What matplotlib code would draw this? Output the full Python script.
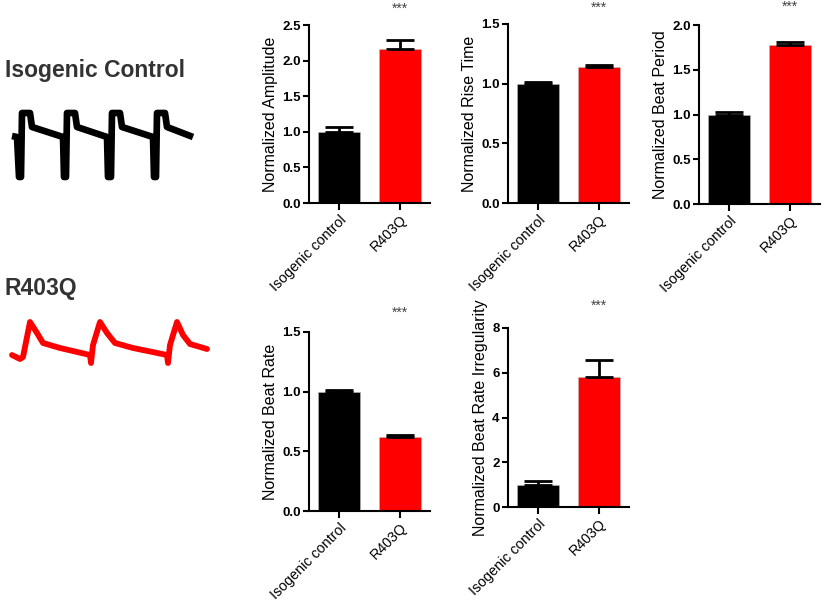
import matplotlib
matplotlib.use("Agg")
import matplotlib.pyplot as plt

plt.rcParams['font.family'] = ['Liberation Sans', 'DejaVu Sans']

# ---------------- data ----------------
groups = ["Isogenic control", "R403Q"]
bar_colors = ["#000000", "#ff0000"]

amplitude_mean = [1.00, 2.16]
amplitude_err = [0.07, 0.13]
rise_mean = [1.00, 1.14]
rise_err = [0.01, 0.015]
period_mean = [1.00, 1.78]
period_err = [0.03, 0.03]
rate_mean = [1.00, 0.62]
rate_err = [0.01, 0.015]
irreg_mean = [1.00, 5.80]
irreg_err = [0.15, 0.75]

significance = "***"

# illustrative traces (image pixel coordinates)
ctrl_trace_x = [12, 17, 19, 21, 22, 30, 32, 63, 64, 66, 67, 75, 77, 107, 108, 111,
                112, 120, 122, 153, 154, 156, 157, 165, 167, 193]
ctrl_trace_y = [136, 137, 177, 177, 113, 113, 127, 137, 177, 177, 113, 113, 127, 137, 177, 177,
                113, 113, 127, 137, 177, 177, 113, 113, 127, 137]
r403q_trace_x = [12, 20, 23, 26, 30, 37, 43, 60, 90, 91, 93, 100, 107, 115, 133, 167,
                 168, 170, 177, 183, 190, 207]
r403q_trace_y = [355, 359, 357, 342, 322, 333, 343, 348, 355, 363, 345, 322, 333, 343, 348, 355,
                 363, 345, 322, 335, 344, 349]

panels = [
    # (mean, err, ylabel, ymax, yticks, fmt, rect, star offset pt)
    (amplitude_mean, amplitude_err, "Normalized Amplitude", 2.5, [0, 0.5, 1.0, 1.5, 2.0, 2.5], "{:.1f}",
     [309, 25, 121, 178], 12),
    (rise_mean, rise_err, "Normalized Rise Time", 1.5, [0, 0.5, 1.0, 1.5], "{:.1f}",
     [508, 24, 121, 179], 12),
    (period_mean, period_err, "Normalized Beat Period", 2.0, [0, 0.5, 1.0, 1.5, 2.0], "{:.1f}",
     [699, 25, 121, 179], 13),
    (rate_mean, rate_err, "Normalized Beat Rate", 1.5, [0, 0.5, 1.0, 1.5], "{:.1f}",
     [309, 332, 121, 179], 14),
    (irreg_mean, irreg_err, "Normalized Beat Rate Irregularity", 8, [0, 2, 4, 6, 8], "{:.0f}",
     [508, 328, 121, 179], 16),
]

W, H = 825, 606
fig = plt.figure(figsize=(W / 100, H / 100), dpi=100)

# left illustration
bg = fig.add_axes([0, 0, 1, 1])
bg.set_xlim(0, W)
bg.set_ylim(H, 0)
bg.axis("off")
bg.plot(ctrl_trace_x, ctrl_trace_y, color="black", lw=4.8, solid_joinstyle="round", solid_capstyle="butt")
bg.plot(r403q_trace_x, r403q_trace_y, color="#ff0000", lw=4.2, solid_joinstyle="round", solid_capstyle="round")
bg.text(5, 77, "Isogenic Control", fontsize=16.5, fontweight="heavy", color="#333333", va="baseline", ha="left")
bg.text(5, 295, "R403Q", fontsize=16.5, fontweight="heavy", color="#333333", va="baseline", ha="left")

xpos = [0, 1]
for mean, err, ylabel, ymax, yticks, fmt, (l, t, w, h), soff in panels:
    ax = fig.add_axes([l / W, 1 - (t + h) / H, w / W, h / H])
    ax.bar(xpos, mean, width=0.7, color=bar_colors, edgecolor="#bbbbbb", linewidth=0.4, zorder=2)
    ax.errorbar(xpos, mean, yerr=[[0, 0], err], fmt="none", ecolor="black", elinewidth=2.0,
                capsize=10, capthick=2.0, zorder=3)
    ax.set_xlim(-0.5, 1.5)
    ax.set_ylim(0, ymax)
    ax.set_yticks(yticks)
    ax.set_yticklabels([fmt.format(v) for v in yticks], fontsize=9.5, fontweight="bold")
    ax.set_xticks(xpos)
    ax.set_xticklabels(groups, rotation=45, ha="right", rotation_mode="anchor", fontsize=10.3)
    ax.set_ylabel(ylabel, fontsize=11.5, labelpad=3)
    for s in ["top", "right"]:
        ax.spines[s].set_visible(False)
    for s in ["left", "bottom"]:
        ax.spines[s].set_linewidth(1.5)
    ax.tick_params(axis="both", direction="out", width=1.5, length=4, pad=2)
    ax.tick_params(axis="x", length=5, pad=2)
    ax.annotate(significance, xy=(1, 1), xycoords=("data", "axes fraction"), xytext=(0, soff),
                textcoords="offset points", ha="center", va="center", fontsize=10, color="#444444")

fig.savefig("out.png", dpi=100)
